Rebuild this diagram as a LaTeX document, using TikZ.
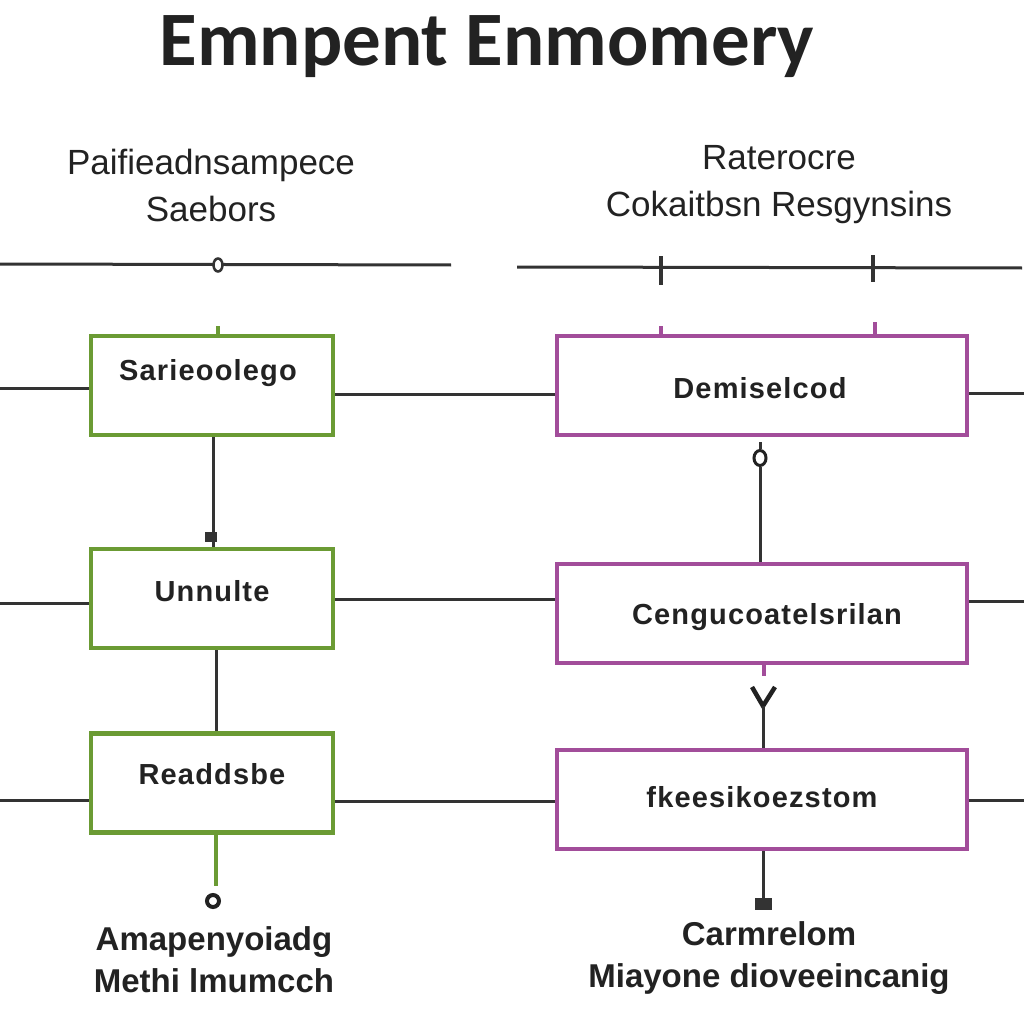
\documentclass[tikz,border=0pt]{standalone}
\usepackage{fontspec}
\usetikzlibrary{shapes.geometric}
\setmainfont{Liberation Sans}
\newfontfamily\titlefont{Carlito}
\newfontfamily\wideboxfont[LetterSpace=4]{Liberation Sans}
\definecolor{boxgreen}{HTML}{6B9B34}
\definecolor{boxpurple}{HTML}{A24D9A}
\definecolor{ink}{HTML}{222222}
\definecolor{wire}{HTML}{333333}
\begin{document}
\begin{tikzpicture}[x=1pt,y=-1pt,
  gbox/.style={draw=boxgreen,line width=4.5pt,fill=white,minimum width=242pt,minimum height=99pt,inner sep=0pt},
  pbox/.style={draw=boxpurple,line width=4.5pt,fill=white,minimum width=410pt,minimum height=99pt,inner sep=0pt},
  boxtext/.style={text=ink,font=\wideboxfont\bfseries\fontsize{29}{30}\selectfont},
  headtext/.style={text=ink,font=\fontsize{35}{47}\selectfont,align=center},
  foottext/.style={text=ink,font=\bfseries\fontsize{33}{42}\selectfont,align=center},
  wireline/.style={draw=wire,line width=3pt},
  gstub/.style={draw=boxgreen,line width=4pt},
  pstub/.style={draw=boxpurple,line width=4pt}]
\useasboundingbox (0,0) rectangle (1024,1024);
\fill[white] (0,0) rectangle (1024,1024);

% title
\node[text=ink,font=\titlefont\bfseries\fontsize{77}{80}\selectfont] (title) at (487,47) {Emnpent Enmomery};

% headings
\node[headtext] (lhead) at (211,185) {Paifieadnsampece\\Saebors};
\node[headtext] (rhead) at (779,185) {Raterocre\\Cokaitbsn Resgynsins};

% top rails
\coordinate (lr0) at (0,264);
\coordinate (lr1) at (451,265);
\coordinate (rr0) at (517,267);
\coordinate (rr1) at (1022,268);
\draw[wireline] (lr0) -- (lr1);
\draw[wireline] (rr0) -- (rr1);
\node[ellipse,draw=wire,fill=white,line width=2.5pt,minimum width=9pt,minimum height=13pt,inner sep=0pt] (lmark) at (218,265) {};
\coordinate (rt1a) at (661,256); \coordinate (rt1b) at (661,285);
\coordinate (rt2a) at (873,255); \coordinate (rt2b) at (873,282);
\draw[wireline,line width=4pt] (rt1a) -- (rt1b);
\draw[wireline,line width=3.5pt] (rt2a) -- (rt2b);

% boxes
\node[gbox] (L1) at (212,385.5) {};
\node[gbox] (L2) at (212,598.5) {};
\node[gbox] (L3) at (212,783) {};
\node[pbox] (R1) at (762,385.5) {};
\node[pbox] (R2) at (762,613.5) {};
\node[pbox] (R3) at (762,799.5) {};

\node[boxtext] (L1t) at (208,373) {Sarieoolego};
\node[boxtext] (L2t) at (212,591) {Unnulte};
\node[boxtext] (L3t) at (212,774) {Readdsbe};
\node[boxtext] (R1t) at (760,388) {Demiselcod};
\node[boxtext] (R2t) at (767,617) {Cengucoatelsrilan};
\node[boxtext] (R3t) at (762,797) {fkeesikoezstom};

% row wires
\coordinate (w1a) at (0,388); \coordinate (w1b) at (1024,393);
\coordinate (w2a) at (0,603); \coordinate (w2b) at (1024,601);
\coordinate (w3a) at (0,800); \coordinate (w3b) at (1024,800);
\draw[wireline] (w1a) -- (L1.west |- w1a);
\draw[wireline] (L1.east |- 0,394) -- (R1.west |- 0,394);
\draw[wireline] (R1.east |- w1b) -- (w1b);
\draw[wireline] (w2a) -- (L2.west |- w2a);
\draw[wireline] (L2.east |- 0,599) -- (R2.west |- 0,599);
\draw[wireline] (R2.east |- w2b) -- (w2b);
\draw[wireline] (w3a) -- (L3.west |- w3a);
\draw[wireline] (L3.east |- 0,801) -- (R3.west |- 0,801);
\draw[wireline] (R3.east |- w3b) -- (w3b);

% stubs above top boxes
\coordinate (gs1) at (218,326);
\draw[gstub] (gs1) -- (gs1 |- L1.north);
\coordinate (ps1) at (661,326);
\coordinate (ps2) at (875,322);
\draw[pstub] (ps1) -- (ps1 |- R1.north);
\draw[pstub] (ps2) -- (ps2 |- R1.north);

% left column verticals
\coordinate (lv1) at (213,0);
\draw[wireline] (lv1 |- L1.south) -- (lv1 |- L2.north);
\node[fill=wire,minimum width=12pt,minimum height=10pt,inner sep=0pt] (lsq) at (211,537) {};
\coordinate (lv2) at (216,0);
\draw[wireline] (lv2 |- L2.south) -- (lv2 |- L3.north);
\coordinate (lg) at (216,886);
\draw[draw=boxgreen,line width=4pt] (lv2 |- L3.south) -- (lg);
\node[circle,draw=ink,line width=4pt,minimum size=12pt,inner sep=0pt] (lring) at (213,901) {};

% right column verticals
\node[ellipse,draw=ink,line width=3pt,minimum width=12pt,minimum height=15pt,inner sep=0pt,fill=white] (rring) at (760,458) {};
\coordinate (rv1) at (760,442);
\draw[wireline] (rv1) -- (rring.north);
\draw[wireline] (rring.south) -- (rring.south |- R2.north);
\coordinate (pst) at (764,676);
\draw[draw=boxpurple,line width=4pt] (pst |- R2.south) -- (pst);
\coordinate (yl) at (752,687);
\coordinate (yr) at (775,687);
\coordinate (yc) at (763,706);
\draw[draw=ink,line width=4.5pt] (yl) -- (yc) -- (yr);
\draw[wireline] (yc) -- (yc |- R3.north);
\node[fill=wire,minimum width=17pt,minimum height=12pt,inner sep=0pt] (rcap) at (763,904) {};
\coordinate (rv3) at (763,0);
\draw[wireline] (rv3 |- R3.south) -- (rcap.north);

% footers
\node[foottext] (lfoot) at (214,960) {Amapenyoiadg\\Methi lmumcch};
\node[foottext] (rfoot) at (769,958) {Carmrelom\\Miayone dioveeincanig};
\end{tikzpicture}
\end{document}
